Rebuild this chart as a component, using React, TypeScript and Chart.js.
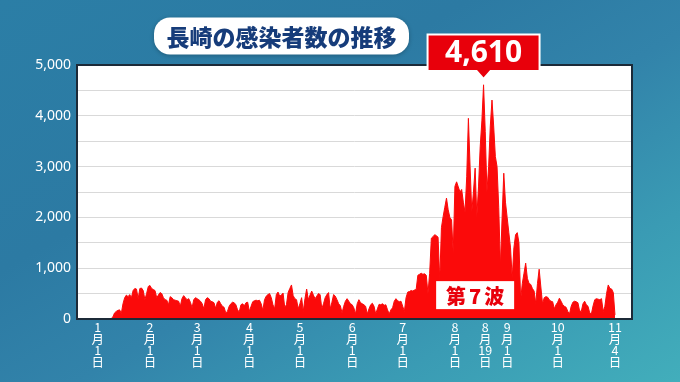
import React, { useEffect, useRef } from "react";
import { Chart, registerables } from "chart.js";

Chart.register(...registerables);

// Daily new cases in Nagasaki, 2022 (Jan 1 – Nov 4)
const jan = [0, 0, 1, 2, 3, 5, 4, 8, 10, 40, 120, 150, 170, 180, 110, 300, 420, 470, 440, 480, 420, 560, 600, 590, 400, 600, 610, 560, 380, 500, 640];
const feb = [660, 600, 580, 560, 420, 470, 520, 500, 420, 380, 370, 280, 440, 420, 380, 370, 360, 350, 250, 400, 460, 420, 380, 400, 330, 220, 380, 420];
const mar = [400, 380, 350, 300, 200, 380, 420, 400, 350, 340, 320, 210, 330, 360, 300, 250, 230, 120, 150, 250, 300, 330, 320, 280, 180, 140, 280, 300, 260, 320, 330];
const apr = [150, 250, 340, 360, 370, 360, 370, 300, 170, 380, 450, 480, 500, 420, 280, 200, 480, 530, 450, 470, 510, 230, 280, 520, 600, 670, 460, 400, 380, 200];
const may = [300, 420, 150, 400, 590, 380, 470, 550, 470, 400, 450, 500, 480, 200, 300, 420, 480, 520, 200, 330, 480, 450, 380, 300, 260, 120, 250, 350, 400, 350, 300];
const jun = [280, 220, 100, 300, 380, 320, 300, 280, 250, 100, 200, 280, 310, 250, 100, 200, 290, 280, 300, 270, 280, 180, 100, 180, 220, 350, 400, 360, 340, 350];
const jul = [250, 150, 420, 530, 540, 560, 550, 570, 580, 860, 880, 900, 880, 890, 860, 500, 900, 1590, 1620, 1660, 1640, 1610, 770, 1800, 2015, 2200, 2380, 2150, 2000, 1950, 1300];
const aug = [2610, 2700, 2600, 2500, 2550, 2300, 2100, 2800, 3950, 3000, 2100, 2500, 2970, 2010, 2600, 3390, 3900, 4610, 3690, 2500, 3000, 3800, 4310, 3800, 3200, 3000, 2200, 1030, 2000, 2870, 2300];
const sep = [2000, 1700, 1400, 800, 1400, 1660, 1700, 1500, 375, 700, 900, 1100, 800, 700, 680, 600, 550, 300, 700, 980, 630, 300, 420, 440, 430, 380, 350, 340, 200, 280];
const oct = [330, 410, 350, 280, 250, 230, 150, 100, 250, 330, 350, 340, 320, 160, 150, 300, 350, 280, 250, 120, 100, 260, 380, 400, 390, 380, 400, 150, 250, 500, 670];
const nov = [600, 590, 520, 80];

const cases = [...jan, ...feb, ...mar, ...apr, ...may, ...jun, ...jul, ...aug, ...sep, ...oct, ...nov];

// x tick positions (day index from Jan 1) and their labels
const tickDays = [0, 31, 59, 90, 120, 151, 181, 212, 230, 243, 273, 307];
const tickLabels = ["1月1日", "2月1日", "3月1日", "4月1日", "5月1日", "6月1日", "7月1日", "8月1日", "8月19日", "9月1日", "10月1日", "11月4日"];

const titleText = "長崎の感染者数の推移";
const peakText = "4,610";
const waveText = "第7波";
const waveDay = 224;
const waveValue = 470;

const RED = "#fb0a0a";

function roundRect(ctx: CanvasRenderingContext2D, x: number, y: number, w: number, h: number, r: number) {
  ctx.beginPath();
  ctx.moveTo(x + r, y);
  ctx.lineTo(x + w - r, y);
  ctx.arcTo(x + w, y, x + w, y + r, r);
  ctx.lineTo(x + w, y + h - r);
  ctx.arcTo(x + w, y + h, x + w - r, y + h, r);
  ctx.lineTo(x + r, y + h);
  ctx.arcTo(x, y + h, x, y + h - r, r);
  ctx.lineTo(x, y + r);
  ctx.arcTo(x, y, x + r, y, r);
  ctx.closePath();
}

const decor = {
  id: "decor",
  beforeDraw(chart: any) {
    const { ctx, chartArea: a } = chart;
    ctx.save();
    ctx.fillStyle = "#ffffff";
    ctx.fillRect(a.left, a.top, a.right - a.left, a.bottom - a.top);
    ctx.restore();
  },
  afterDatasetsDraw(chart: any) {
    const { ctx, chartArea: a, scales } = chart;
    ctx.save();
    // plot frame
    ctx.strokeStyle = "#1c2a38";
    ctx.lineWidth = 2;
    ctx.strokeRect(a.left, a.top, a.right - a.left, a.bottom - a.top);
    // wave label
    const cx = scales.x.getPixelForValue(waveDay);
    const cy = scales.y.getPixelForValue(waveValue);
    const bw = 78, bh = 28;
    ctx.fillStyle = "#ffffff";
    ctx.fillRect(cx - bw / 2, cy - bh / 2, bw, bh);
    ctx.fillStyle = "#e8000b";
    ctx.font = "900 20px 'Noto Sans CJK JP'";
    (ctx as any).letterSpacing = "3px";
    ctx.textAlign = "center";
    ctx.textBaseline = "middle";
    ctx.fillText(waveText, cx + 1.5, cy + 1);
    (ctx as any).letterSpacing = "0px";
    ctx.restore();
  },
  afterDraw(chart: any) {
    const { ctx, scales } = chart;
    ctx.save();
    // title pill
    ctx.shadowColor = "rgba(0,0,0,0.25)";
    ctx.shadowBlur = 4;
    ctx.shadowOffsetY = 1;
    ctx.fillStyle = "#ffffff";
    roundRect(ctx, 154, 17.5, 255, 37, 16);
    ctx.fill();
    ctx.shadowColor = "transparent";
    ctx.fillStyle = "#163c7a";
    ctx.font = "900 23px 'Noto Sans CJK JP'";
    ctx.textAlign = "center";
    ctx.textBaseline = "middle";
    ctx.fillText(titleText, 281.5, 37);

    // peak callout
    let peakIdx = 0;
    cases.forEach((v, i) => { if (v > cases[peakIdx]) peakIdx = i; });
    const px = scales.x.getPixelForValue(peakIdx);
    const bx = px - 56, by = 34.5, bw = 112, bh = 36.5;
    ctx.beginPath();
    ctx.moveTo(bx, by);
    ctx.lineTo(bx + bw, by);
    ctx.lineTo(bx + bw, by + bh);
    ctx.lineTo(px + 7, by + bh);
    ctx.lineTo(px, by + bh + 8);
    ctx.lineTo(px - 7, by + bh);
    ctx.lineTo(bx, by + bh);
    ctx.closePath();
    ctx.fillStyle = "#e8000b";
    ctx.fill();
    ctx.strokeStyle = "#ffffff";
    ctx.lineWidth = 2;
    ctx.stroke();
    ctx.fillStyle = "#ffffff";
    ctx.font = "bold 30px 'Noto Sans'";
    ctx.fillText(peakText, px, by + bh / 2 + 1);
    ctx.restore();
  },
};

export default function App() {
  const ref = useRef<HTMLCanvasElement>(null);
  useEffect(() => {
    if (!ref.current) return;
    const chart = new Chart(ref.current, {
      type: "line",
      data: {
        datasets: [
          {
            data: cases.map((v, i) => ({ x: i, y: v })),
            borderColor: RED,
            backgroundColor: RED,
            borderWidth: 1,
            fill: "origin",
            pointRadius: 0,
            tension: 0,
          },
        ],
      },
      options: {
        animation: false,
        responsive: false,
        devicePixelRatio: 1,
        layout: { padding: { top: 65, right: 48, bottom: 0, left: 0 } },
        plugins: { legend: { display: false }, tooltip: { enabled: false } },
        scales: {
          x: {
            type: "linear",
            min: -12.3,
            max: 317.1,
            grid: { display: false, drawTicks: false },
            border: { display: false },
            afterBuildTicks: (scale: any) => {
              scale.ticks = tickDays.map((d) => ({ value: d }));
            },
            afterFit: (scale: any) => {
              scale.height = 63;
            },
            ticks: {
              autoSkip: false,
              maxRotation: 0,
              minRotation: 0,
              padding: 3,
              color: "#ffffff",
              font: { family: "'Noto Sans CJK JP'", size: 12.5, lineHeight: "11.4px" },
              callback: (v: any) => {
                const i = tickDays.indexOf(Number(v));
                return i < 0 ? "" : tickLabels[i].match(/\d+|./g);
              },
            },
          },
          y: {
            min: 0,
            max: 5000,
            grid: { color: "#d9d9d9", lineWidth: 1, drawTicks: false },
            border: { display: false },
            afterFit: (scale: any) => {
              scale.width = 77;
            },
            ticks: {
              stepSize: 500,
              padding: 6,
              color: "#ffffff",
              font: { family: "'Noto Sans'", size: 14 },
              callback: (v: any) => (Number(v) % 1000 === 0 ? Number(v).toLocaleString("en-US") : ""),
            },
          },
        },
      },
      plugins: [decor],
    });
    return () => chart.destroy();
  }, []);

  return (
    <div
      style={{
        position: "absolute",
        left: 0,
        top: 0,
        width: 680,
        height: 382,
        overflow: "hidden",
        background:
          "linear-gradient(150deg, #2b7ea6 0%, #2c7aa3 35%, #3283aa 55%, #3a9bb4 78%, #42aebb 100%)",
      }}
    >
      <canvas ref={ref} width={680} height={382} style={{ display: "block", width: 680, height: 382 }} />
    </div>
  );
}
